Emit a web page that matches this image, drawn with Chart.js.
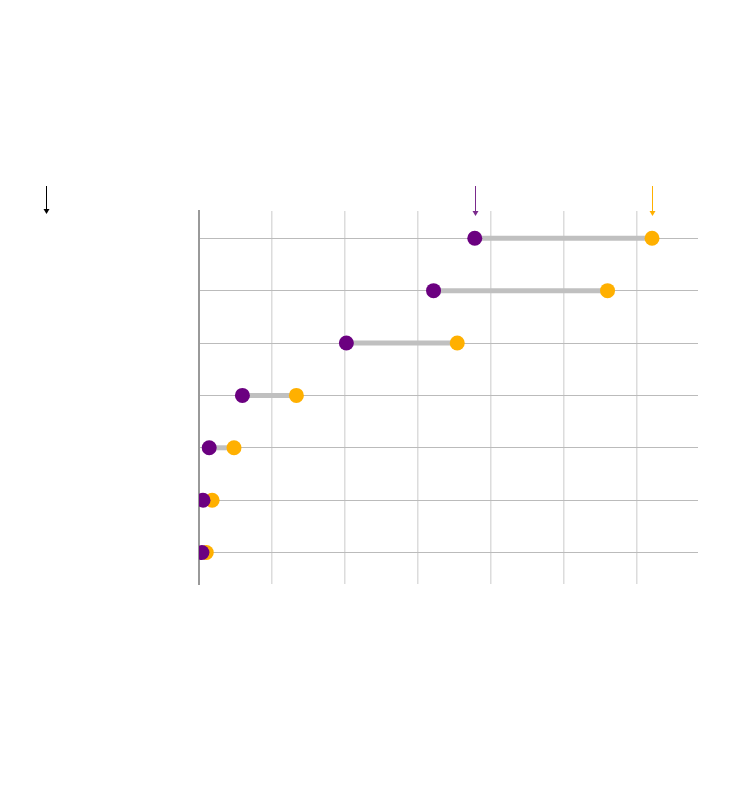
<!DOCTYPE html>
<html>
<head>
  <meta charset="UTF-8">
  <title>Dumbbell</title>
  <script src="https://cdn.jsdelivr.net/npm/chart.js"></script>
  <style>
    html, body { margin: 0; padding: 0; background: #fff; }
    .wrap { width: 750px; height: 800px; }
  </style>
</head>
<body>
<div class="wrap"><canvas id="chart" width="750" height="800"></canvas></div>

<script>
// rows from top to bottom
const rows = [0, 1, 2, 3, 4, 5, 6];
const purpleVals = [37.8, 32.15, 20.2, 5.95, 1.4, 0.55, 0.4];
const orangeVals = [62.1, 56.0, 35.4, 13.35, 4.8, 1.8, 1.0];

const PURPLE = '#6b0080';
const ORANGE = '#ffb000';

const datasets = [
  {
    label: 'purple',
    data: rows.map(i => ({ x: purpleVals[i], y: rows[i] })),
    backgroundColor: PURPLE, borderColor: PURPLE,
    pointRadius: 7.5, pointHoverRadius: 7.5, borderWidth: 0
  },
  {
    label: 'orange',
    data: rows.map(i => ({ x: orangeVals[i], y: rows[i] })),
    backgroundColor: ORANGE, borderColor: ORANGE,
    pointRadius: 7.5, pointHoverRadius: 7.5, borderWidth: 0
  }
];
// connector between the two dots on every row
rows.forEach(i => {
  datasets.push({
    data: [{ x: purpleVals[i], y: rows[i] }, { x: orangeVals[i], y: rows[i] }],
    showLine: true, borderColor: '#c0c0c0', borderWidth: 5,
    pointRadius: 0, borderCapStyle: 'butt'
  });
});

function arrow(ctx, x, y0, y1, color) {
  ctx.save();
  ctx.strokeStyle = color;
  ctx.fillStyle = color;
  ctx.lineWidth = 1;
  ctx.beginPath();
  ctx.moveTo(x, y0);
  ctx.lineTo(x, y1 - 4);
  ctx.stroke();
  ctx.beginPath();
  ctx.moveTo(x - 3, y1 - 5);
  ctx.lineTo(x + 3, y1 - 5);
  ctx.lineTo(x, y1);
  ctx.closePath();
  ctx.fill();
  ctx.restore();
}

const arrows = {
  id: 'arrows',
  afterDraw(chart) {
    const { ctx, chartArea, scales } = chart;
    const top = chartArea.top - 25;
    arrow(ctx, 46.5, top, chartArea.top + 3, '#000');
    arrow(ctx, Math.round(scales.x.getPixelForValue(purpleVals[0])) + 0.5, top, chartArea.top + 5, '#7a2a8c');
    arrow(ctx, Math.round(scales.x.getPixelForValue(orangeVals[0])) + 0.5, top, chartArea.top + 5, ORANGE);
  }
};

new Chart(document.getElementById('chart'), {
  type: 'scatter',
  data: { datasets },
  options: {
    responsive: false,
    animation: false,
    layout: { padding: { left: 199, right: 52, top: 211, bottom: 216 } },
    plugins: { legend: { display: false }, tooltip: { enabled: false } },
    scales: {
      x: {
        min: 0, max: 68.4,
        ticks: { display: false, stepSize: 10 },
        afterBuildTicks: s => { s.ticks = s.ticks.filter(t => t.value % 10 === 0); },
        border: { display: false },
        grid: {
          drawTicks: false,
          color: c => c.tick.value === 0 ? '#999' : '#dcdcdc',
          lineWidth: c => c.tick.value === 0 ? 2 : 1.5
        }
      },
      y: {
        reverse: true,
        min: -0.52, max: 6.6,
        ticks: { display: false, stepSize: 1 },
        afterBuildTicks: s => { s.ticks = s.ticks.filter(t => Number.isInteger(t.value)); },
        border: { display: true, color: '#999', width: 2 },
        grid: { drawTicks: false, color: '#bbb', lineWidth: 1 }
      }
    }
  },
  plugins: [arrows]
});
</script>
</body>
</html>
